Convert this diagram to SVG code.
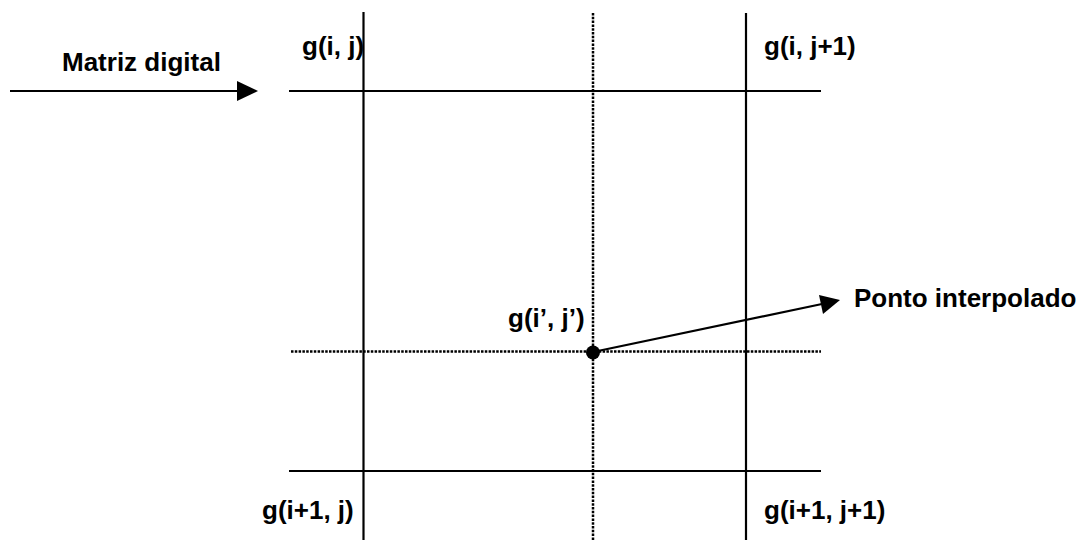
<svg xmlns="http://www.w3.org/2000/svg" width="1087" height="540" viewBox="0 0 1087 540">
<style>
.s{stroke:#000;stroke-width:2.2;fill:none}
.d{stroke:#000;stroke-width:2.5;fill:none;stroke-dasharray:2.5 1.3}
.t{font-family:"Liberation Sans",Arial,sans-serif;font-weight:bold;font-size:26px;fill:#000}
</style>
<rect width="1087" height="540" fill="#fff"/>
<g id="grid">
<line class="s" x1="363.5" y1="12" x2="363.5" y2="540"/>
<line class="s" x1="746" y1="13" x2="746" y2="540"/>
<line class="d" x1="593" y1="13" x2="593" y2="540"/>
<line class="s" x1="289" y1="91" x2="821" y2="91"/>
<line class="s" x1="289" y1="471" x2="821" y2="471"/>
<line class="d" x1="291" y1="351.5" x2="821" y2="351.5"/>
</g>
<g id="connectors">
<line class="s" x1="10" y1="91" x2="240" y2="91"/>
<polygon points="237,81 258,91 237,101" fill="#000"/>
<line class="s" x1="593" y1="352" x2="822" y2="304"/>
<polygon points="840,300 823,314 819,295" fill="#000"/>
</g>
<g id="point">
<circle cx="593" cy="352.5" r="7" fill="#000"/>
<text class="t" x="508" y="327">g(i’, j’)</text>
</g>
<g id="labels">
<text class="t" x="62" y="71">Matriz digital</text>
<text class="t" x="302" y="55">g(i, j)</text>
<text class="t" x="764" y="55">g(i, j+1)</text>
<text class="t" x="262" y="519">g(i+1, j)</text>
<text class="t" x="764" y="519">g(i+1, j+1)</text>
<text class="t" x="854" y="307">Ponto interpolado</text>
</g>
</svg>
